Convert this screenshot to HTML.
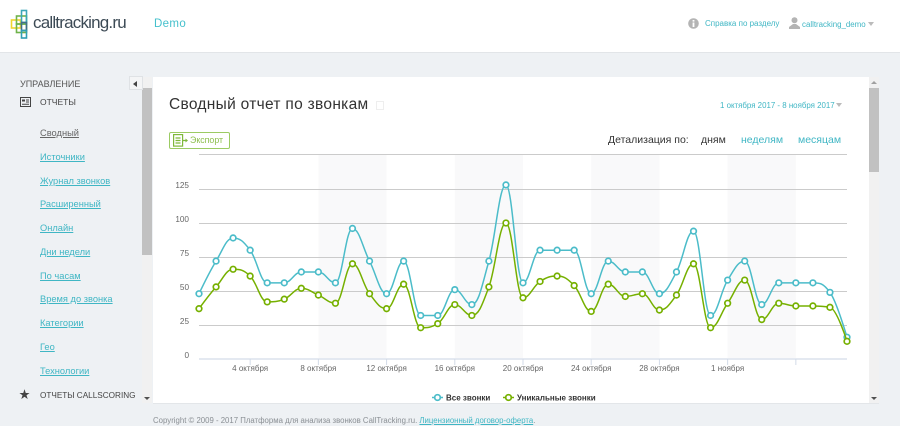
<!DOCTYPE html>
<html lang="ru">
<head>
<meta charset="utf-8">
<title>Сводный отчет по звонкам</title>
<style>
html,body{margin:0;padding:0;width:900px;height:426px;overflow:hidden;background:#eef1f4;font-family:"Liberation Sans","Noto Sans CJK JP",sans-serif;}
.abs{position:absolute;white-space:nowrap;}
#root{position:relative;width:900px;height:426px;overflow:hidden;}
a{color:#3fb6c4;}
.nav{left:40px;font-size:9.3px;line-height:12px;color:#3fb6c4;text-decoration:underline;}
</style>
</head>
<body>
<div id="root">
  <div class="abs" style="left:0;top:0;width:900px;height:52px;background:#fff;border-bottom:1px solid #e2e5e8;"></div>
  <svg class="abs" style="left:10px;top:9px" width="20" height="31" viewBox="0 0 20 31" fill="none" stroke-width="1.6">
    <rect x="1.500" y="11" width="9" height="8" stroke="#f0d62e"/>
    <rect x="6.500" y="7" width="10" height="8" stroke="#6fb34a"/>
    <rect x="6.500" y="15" width="10" height="8.500" stroke="#6fb34a"/>
    <rect x="11.500" y="1.500" width="5" height="12" stroke="#3aa7b8"/>
    <rect x="11.500" y="13.500" width="5" height="8" stroke="#3f6f8a"/>
    <rect x="11.500" y="21.500" width="5" height="7.500" stroke="#2f9fb4"/>
  </svg>
  <div class="abs" style="left:33px;top:11px;font-size:17px;line-height:24px;letter-spacing:-.8px;color:#3c4a55;">calltracking.ru</div>
  <div class="abs" style="left:154px;top:17px;font-size:11.500px;line-height:15px;letter-spacing:.35px;color:#45c0cc;">Demo</div>
  <svg class="abs" style="left:688px;top:18px" width="11" height="11" viewBox="0 0 11 11"><circle cx="5.500" cy="5.500" r="5.300" fill="#b4b4b4"/><rect x="4.600" y="4.500" width="1.800" height="4.500" fill="#fff"/><rect x="4.600" y="2" width="1.800" height="1.600" fill="#fff"/></svg>
  <div class="abs" style="left:705px;top:18px;font-size:8px;line-height:12px;color:#3fb6c4;">Справка по разделу</div>
  <svg class="abs" style="left:789px;top:17px" width="11" height="12" viewBox="0 0 11 12"><circle cx="5.500" cy="3.200" r="3" fill="#b4b4b4"/><path d="M0 12V10L4 7H7L11 10V12Z" fill="#b4b4b4"/></svg>
  <div class="abs" style="left:802px;top:19px;font-size:7.900px;line-height:12px;color:#3fb6c4;">calltracking_demo</div>
  <div class="abs" style="left:868px;top:22px;width:0;height:0;border-left:3px solid transparent;border-right:3px solid transparent;border-top:4px solid #bbb;"></div>

  <div class="abs" style="left:20px;top:77px;font-size:9px;line-height:12px;margin-top:1px;color:#555;">УПРАВЛЕНИЕ</div>
  <svg class="abs" style="left:20px;top:97px" width="11" height="10" viewBox="0 0 11 10" fill="none" stroke="#444"><rect x=".5" y=".5" width="10" height="9"/><rect x="2" y="2.500" width="3" height="2" fill="#444" stroke="none"/><path d="M6 3H9M6 5H9M2 7.300H9"/></svg>
  <div class="abs" style="left:40px;top:96px;font-size:8.500px;line-height:12px;color:#444;">ОТЧЕТЫ</div>
  <div class="abs nav" style="top:127px;color:#666;">Сводный</div>
  <div class="abs nav" style="top:151px;">Источники</div>
  <div class="abs nav" style="top:175px;">Журнал звонков</div>
  <div class="abs nav" style="top:198px;">Расширенный</div>
  <div class="abs nav" style="top:222px;">Онлайн</div>
  <div class="abs nav" style="top:246px;">Дни недели</div>
  <div class="abs nav" style="top:270px;">По часам</div>
  <div class="abs nav" style="top:293px;">Время до звонка</div>
  <div class="abs nav" style="top:317px;">Категории</div>
  <div class="abs nav" style="top:341px;">Гео</div>
  <div class="abs nav" style="top:365px;">Технологии</div>
  <div class="abs" style="left:19px;top:389px;font-size:11px;line-height:13px;color:#444;">★</div>
  <div class="abs" style="left:40px;top:390px;font-size:8.200px;line-height:12px;color:#444;">ОТЧЕТЫ CALLSCORING</div>

  <div class="abs" style="left:142px;top:77px;width:10px;height:326px;background:#f1f1f1;"></div>
  <div class="abs" style="left:142px;top:88px;width:10px;height:167px;background:#c1c1c1;"></div>
  <div class="abs" style="left:144px;top:397px;width:0;height:0;border-left:3px solid transparent;border-right:3px solid transparent;border-top:3px solid #505050;"></div>
  <div class="abs" style="left:129px;top:76px;width:14px;height:14px;background:#f4f5f6;border:1px solid #dfe2e5;box-sizing:border-box;"></div>
  <div class="abs" style="left:133px;top:81px;width:0;height:0;border-top:3px solid transparent;border-bottom:3px solid transparent;border-right:4px solid #444;"></div>

  <div class="abs" style="left:153px;top:77px;width:716px;height:326px;background:#fff;"></div>
  <div class="abs" style="left:169px;top:95px;font-size:15.500px;line-height:20px;letter-spacing:.3px;color:#333;">Сводный отчет по звонкам</div>
  <div class="abs" style="left:376px;top:101px;width:8px;height:9px;border:1px solid #eee;box-sizing:border-box;"></div>
  <div class="abs" style="left:720px;top:100px;font-size:7.900px;line-height:12px;color:#3fb6c4;">1 октября 2017 - 8 ноября 2017</div>
  <div class="abs" style="left:836px;top:103px;width:0;height:0;border-left:3px solid transparent;border-right:3px solid transparent;border-top:4px solid #bbb;"></div>

  <div class="abs" style="left:169px;top:132px;width:61px;height:17px;border:1px solid #9ccb63;border-radius:2px;box-sizing:border-box;background:#fff;"></div>
  <svg class="abs" style="left:173px;top:134px" width="15" height="13" viewBox="0 0 15 13" fill="none" stroke="#7fb83a" stroke-width="1.200"><rect x=".6" y=".6" width="9" height="11.500"/><path d="M2.500 4H7.500M2.500 6.500H7.500M2.500 9H7.500M10 6.500H13"/><path d="M12.500 4.500L15 6.500L12.500 8.500Z" fill="#7fb83a" stroke="none"/></svg>
  <div class="abs" style="left:190px;top:134px;font-size:8.800px;line-height:12px;color:#8dbf4c;">Экспорт</div>

  <div class="abs" style="left:608px;top:133px;font-size:10.500px;line-height:14px;color:#333;">Детализация по:</div>
  <div class="abs" style="left:701px;top:133px;font-size:10.500px;line-height:14px;color:#333;">дням</div>
  <div class="abs" style="left:741px;top:133px;font-size:10.500px;line-height:14px;color:#3fb6c4;">неделям</div>
  <div class="abs" style="left:798px;top:133px;font-size:10.500px;line-height:14px;color:#3fb6c4;">месяцам</div>

  <svg id="chart" class="abs" style="left:153px;top:150px" width="716" height="253" viewBox="153 150 716 253"></svg>

  <div class="abs" style="left:869px;top:77px;width:10px;height:326px;background:#f1f1f1;"></div>
  <div class="abs" style="left:869px;top:88px;width:10px;height:84px;background:#c1c1c1;"></div>
  <div class="abs" style="left:871px;top:81px;width:0;height:0;border-left:3px solid transparent;border-right:3px solid transparent;border-bottom:3px solid #a0a0a0;"></div>
  <div class="abs" style="left:871px;top:397px;width:0;height:0;border-left:3px solid transparent;border-right:3px solid transparent;border-top:3px solid #505050;"></div>
  <div class="abs" style="left:153px;top:403px;width:726px;height:1px;background:#e3e6e9;"></div>

  <div class="abs" style="left:153px;top:415px;font-size:7.800px;line-height:12px;color:#8a8f94;">Copyright © 2009 - 2017 Платформа для анализа звонков CallTracking.ru. <a href="#" style="color:#3fb6c4;">Лицензионный договор-оферта</a>.</div>
</div>

<script>
const dayLabels = ["4 октября","8 октября","12 октября","16 октября","20 октября","24 октября","28 октября","1 ноября",""];
const dayLabelIndex = [3,7,11,15,19,23,27,31,35];
const shadedRanges = [[7,11],[15,19],[23,27],[31,35]];
const yTicks = [0,25,50,75,100,125];
const allCalls = [48,72,89,80,56,56,64,64,56,96,72,48,72,32,32,51,40,72,128,56,80,80,80,48,72,64,64,48,64,94,32,58,72,40,56,56,56,49,16];
const uniqueCalls = [37,53,66,61,42,44,52,47,41,70,48,37,55,23,26,40,32,53,100,45,57,61,54,35,55,46,48,36,47,70,23,41,58,29,41,39,39,38,13];
const legendNames = ["Все звонки","Уникальные звонки"];

const NS = "http://www.w3.org/2000/svg";
const svg = document.getElementById("chart");
const xLeft = 199, xRight = 847, yZero = 359, yPerUnit = 34 / 25;
const dayCount = allCalls.length;
const xScale = i => xLeft + i * (xRight - xLeft) / (dayCount - 1);
const yScale = v => yZero - v * yPerUnit;

function add(tag, attrs, parent) {
  const el = document.createElementNS(NS, tag);
  for (const k in attrs) el.setAttribute(k, attrs[k]);
  (parent || svg).appendChild(el);
  return el;
}

shadedRanges.forEach(r => {
  const el = add("rect", {x: xScale(r[0]), y: 155, width: xScale(r[1]) - xScale(r[0]), height: yZero - 155, fill: "#f9f9fa"});
  
  
});

yTicks.forEach(t => {
  if (t > 0) {
    const line = add("line", {x1: xLeft, x2: xRight, y1: yScale(t) + .5, y2: yScale(t) + .5, stroke: "#cbcbcb", "stroke-width": 1});
    
    
  }
  const label = add("text", {x: 189, y: yScale(t) - 1, "text-anchor": "end", "font-size": 8.2, fill: "#666", "font-family": "Liberation Sans, sans-serif"});
  label.textContent = t;
  
  
});

const topLine = add("line", {x1: xLeft, x2: xRight, y1: 154.5, y2: 154.5, stroke: "#cbcbcb"});



const axis = add("line", {x1: xLeft, x2: xRight, y1: yZero, y2: yZero, stroke: "#e4e9f1", "stroke-width": 2});



dayLabelIndex.forEach((d, i) => {
  const tick = add("line", {x1: xScale(d), x2: xScale(d), y1: yZero, y2: yZero + 6, stroke: "#d3dbe8"});
  
  
  if (dayLabels[i]) {
    const label = add("text", {x: xScale(d), y: 371, "text-anchor": "middle", "font-size": 8, fill: "#666", "font-family": "Liberation Sans, sans-serif"});
    label.textContent = dayLabels[i];
    
    
  }
});

function splinePath(values) {
  const pts = values.map((v, i) => [xScale(i), yScale(v)]);
  const s = 1.5, den = 2.5;
  const ctrl = pts.map((p, i) => {
    if (i === 0 || i === pts.length - 1) return {lx: p[0], ly: p[1], rx: p[0], ry: p[1]};
    const a = pts[i - 1], b = pts[i + 1];
    const lx = (s * p[0] + a[0]) / den, rx = (s * p[0] + b[0]) / den;
    let ly = (s * p[1] + a[1]) / den, ry = (s * p[1] + b[1]) / den;
    const c = (ry - ly) * (rx - p[0]) / (rx - lx) + p[1] - ry;
    ly += c; ry += c;
    if (ly > a[1] && ly > p[1]) { ly = Math.max(a[1], p[1]); ry = 2 * p[1] - ly; }
    else if (ly < a[1] && ly < p[1]) { ly = Math.min(a[1], p[1]); ry = 2 * p[1] - ly; }
    if (ry > b[1] && ry > p[1]) { ry = Math.max(b[1], p[1]); ly = 2 * p[1] - ry; }
    else if (ry < b[1] && ry < p[1]) { ry = Math.min(b[1], p[1]); ly = 2 * p[1] - ry; }
    return {lx, ly, rx, ry};
  });
  let d = "M" + pts[0][0] + " " + pts[0][1];
  for (let i = 1; i < pts.length; i++) {
    d += "C" + ctrl[i - 1].rx + " " + ctrl[i - 1].ry + " " + ctrl[i].lx + " " + ctrl[i].ly + " " + pts[i][0] + " " + pts[i][1];
  }
  return d;
}

function drawSeries(values, color, name) {
  const path = add("path", {d: splinePath(values), fill: "none", stroke: color, "stroke-width": 1.5});
  
  
  values.forEach((v, i) => {
    const dot = add("circle", {cx: xScale(i), cy: yScale(v), r: 2.8, fill: "#fff", stroke: color, "stroke-width": 1.7});
    
    
  });
}
drawSeries(allCalls, "#4bbcc9", "all-calls");
drawSeries(uniqueCalls, "#76b000", "unique-calls");

const legendColors = ["#4bbcc9", "#76b000"];
const legendX = [432, 503];
legendNames.forEach((n, i) => {
  const x = legendX[i];
  const line = add("line", {x1: x, x2: x + 11, y1: 397.5, y2: 397.5, stroke: legendColors[i], "stroke-width": 1.5});
  
  
  const dot = add("circle", {cx: x + 5.5, cy: 397.5, r: 2.8, fill: "#fff", stroke: legendColors[i], "stroke-width": 1.7});
  
  
  const text = add("text", {x: x + 14, y: 400.5, "font-size": 8, "font-weight": "bold", fill: "#333", "font-family": "Liberation Sans, sans-serif"});
  text.textContent = n;
  
  
});
</script>
</body>
</html>
